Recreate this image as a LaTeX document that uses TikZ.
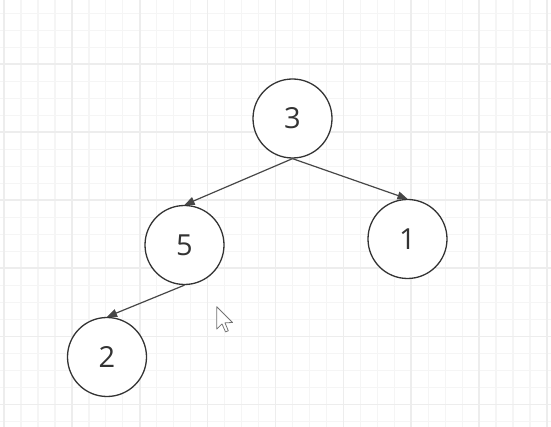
\documentclass[tikz,border=0pt]{standalone}
\usepackage{fontspec}
\setmainfont{Open Sans}
\usetikzlibrary{arrows.meta}
\begin{document}
\begin{tikzpicture}[x=1pt,y=-1pt,
  treenode/.style={circle, draw=black!80, line width=1.3pt, fill=white, minimum size=79pt, inner sep=0pt, font=\fontsize{29}{29}\selectfont, text=black!80},
  edge/.style={draw=black!72, line width=1.2pt, -{Triangle[length=10pt,width=8pt]}},
  minorline/.style={draw=black!4, line width=1.3pt},
  majorline/.style={draw=black!7, line width=1.6pt},
  cursorshape/.style={draw=black!55, line width=0.8pt, fill=white, line join=round}]
\useasboundingbox (0,0) rectangle (551,427);
\fill[white] (0,0) rectangle (551,427);
\foreach \i in {0,...,32} { \draw[minorline] ({4+16.97*\i},0) -- ({4+16.97*\i},427); }
\foreach \j in {0,...,24} { \draw[minorline] (0,{13.3+17*\j}) -- (551,{13.3+17*\j}); }
\foreach \i in {0,4,...,32} { \draw[majorline] ({4+16.97*\i},0) -- ({4+16.97*\i},427); }
\foreach \j in {3,7,...,23} { \draw[majorline] (0,{13.3+17*\j}) -- (551,{13.3+17*\j}); }
\node[treenode] (n3) at (292.5,118.5) {3};
\node[treenode] (n5) at (184.5,245) {5};
\node[treenode] (n1) at (407.5,239) {1};
\node[treenode] (n2) at (107,357) {2};
\draw[edge] (n3.south) -- (n5.north);
\draw[edge] (n3.south) -- (n1.north);
\draw[edge] (n5.south) -- (n2.north);
\begin{scope}[shift={(216.7,306.7)}, scale=1.4]
\draw[cursorshape] (0,0) -- (0,16) -- (3.8,12.3) -- (6.3,18) -- (8.3,17.2) -- (5.9,11.5) -- (11.3,11.3) -- cycle;
\end{scope}
\end{tikzpicture}
\end{document}
